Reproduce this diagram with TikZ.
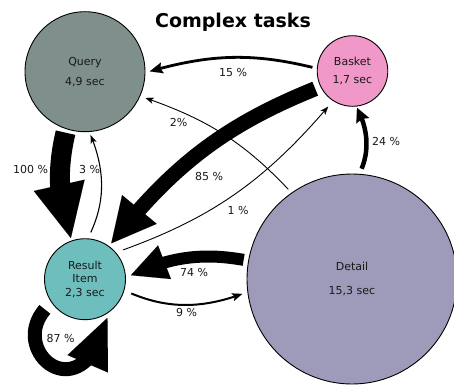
\documentclass[tikz,border=0pt]{standalone}
\usepackage{fontspec}
\setmainfont{DejaVu Sans}
\usetikzlibrary{arrows.meta,bending}
\definecolor{qcol}{RGB}{127,143,140}
\definecolor{bcol}{RGB}{240,152,200}
\definecolor{rcol}{RGB}{110,190,190}
\definecolor{dcol}{RGB}{158,154,186}
\begin{document}
\begin{tikzpicture}[x=1pt,y=1pt,
  state/.style={circle,draw=black,line width=0.9pt,inner sep=0pt,outer sep=0pt,align=center,font=\fontsize{11}{13}\selectfont,text=black!90},
  pct/.style={font=\fontsize{11}{13}\selectfont,text=black!90,inner sep=0pt},
  flow/.style={draw=black,line cap=butt},
  bighead/.style n args={2}{-{Triangle[length=#1,width=#2,line width=0.01pt,flex]}},
  smallhead/.style n args={2}{-{Stealth[length=#1,width=#2,inset=2pt,line width=0.01pt,flex]}},
  ]
\useasboundingbox (0,0) rectangle (454,384);
\node[font=\fontsize{19}{22}\selectfont\bfseries,anchor=base,inner sep=0pt] (title) at (233,357) {Complex tasks};
\node[state,fill=qcol,minimum size=120pt] (query) at (85,312.3) {Query\\[7pt]4,9 sec};
\node[state,fill=bcol,minimum size=70.6pt] (basket) at (352.5,313) {Basket\\[5.3pt]1,7 sec};
\node[state,fill=rcol,minimum size=81pt] (res) at (85,104.8) {Result\\[0.7pt]Item\\[0.7pt]2,3 sec};
\node[state,fill=dcol,minimum size=210pt] (detail) at (352,105) {Detail\\[11pt]15,3 sec};

% edges
\draw[flow,line width=2.8pt,smallhead={13pt}{11pt},shorten <=5pt,shorten >=5pt] (basket.176) to[bend right=15] (query.-1);
\draw[flow,line width=15pt,bighead={44pt}{45pt},shorten <=6pt,shorten >=4pt] (basket.206) to[bend right=15] (res.54);
\draw[flow,line width=0.9pt,smallhead={8pt}{6pt},shorten <=5pt,shorten >=6pt] (detail.125) to[bend right=14] (query.-24);
\draw[flow,line width=0.9pt,smallhead={8pt}{6pt},shorten <=8pt,shorten >=8pt] (res.41) to[bend right=15] (basket.237);
\draw[flow,line width=4.5pt,smallhead={14pt}{14pt},shorten <=6pt,shorten >=2pt] (detail.86) to[bend right=25] (basket.-84);
\draw[flow,line width=20pt,bighead={54pt}{52pt},shorten <=4pt,shorten >=3pt] (query.252) to[bend right=16] (res.109);
\draw[flow,line width=1.1pt,smallhead={8pt}{6pt},shorten <=7pt,shorten >=4pt] (res.86) to[bend right=24] (query.-86);
\draw[flow,line width=12pt,bighead={36pt}{36pt},shorten <=5pt,shorten >=6pt] (detail.170) to[bend right=18] (res.2);
\draw[flow,line width=2pt,smallhead={10pt}{8pt},shorten <=8pt,shorten >=6pt] (res.-16) to[bend right=22] (detail.187);
\draw[flow,line width=14pt,bighead={50pt}{44pt},shorten <=10pt,shorten >=6pt] (res.214) .. controls +(-46,-53) and +(-22,-105) .. (res.-54);

% labels
\node[pct] (l15) at (233,312) {15 \%};
\node[pct] (l85) at (209,208) {85 \%};
\node[pct] (l2) at (178.5,261.3) {2\%};
\node[pct] (l1) at (238,174) {1 \%};
\node[pct] (l24) at (386,242.3) {24 \%};
\node[pct] (l100) at (30.5,215) {100 \%};
\node[pct] (l3) at (89.5,215) {3 \%};
\node[pct] (l74) at (194,112) {74 \%};
\node[pct] (l9) at (186.5,72) {9 \%};
\node[pct] (l87) at (60.5,46) {87 \%};
\end{tikzpicture}
\end{document}
